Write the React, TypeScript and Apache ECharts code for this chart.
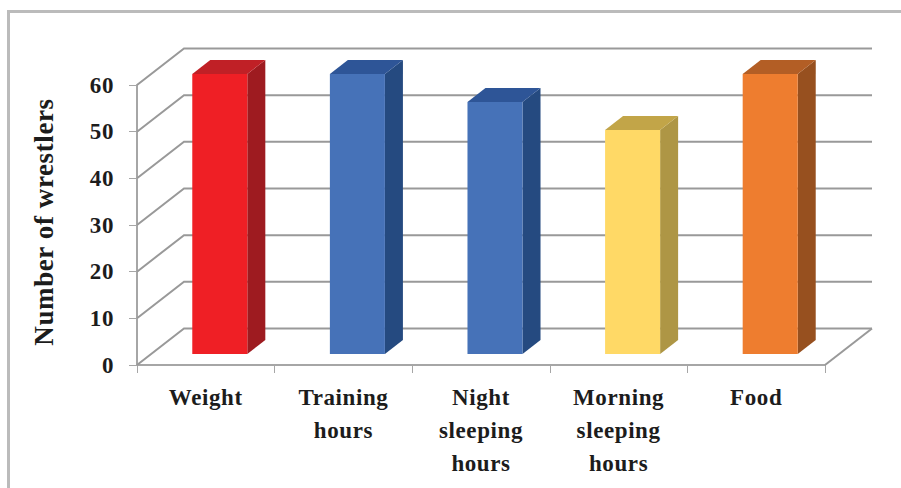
import React, { useEffect, useRef } from "react";
import * as echarts from "echarts";

const categories = [
  "Weight",
  "Training\nhours",
  "Night\nsleeping\nhours",
  "Morning\nsleeping\nhours",
  "Food",
];
const wrestlers = [60, 60, 54, 48, 60];
const valueTicks = [0, 10, 20, 30, 40, 50, 60];
const frontColors = ["#EF1F25", "#4672B8", "#4672B8", "#FFD966", "#EE7D2F"];
const sideColors = ["#9E1B20", "#254A80", "#254A80", "#AE9645", "#97501F"];
const topColors = ["#C02026", "#2E5597", "#2E5597", "#C2A548", "#B35E25"];

// Oblique projection: how far the back wall sits from the front plane.
const WALL_DX = 47;
const WALL_DY = 36.5;
// Bars stand inside the floor, with their own shallower depth.
const BAR_INSET_DX = 14;
const BAR_INSET_DY = 11;
const BAR_DX = 18;
const BAR_DY = 14;
const BAR_WIDTH_RATIO = 0.4;

const GRID_COLOR = "#999999";
const AXIS_COLOR = "#A6A6A6";
const TEXT_COLOR = "#1C1C1C";
const FONT = "'Liberation Serif', serif";

function renderWall(params: any, api: any) {
  const rect = params.coordSys;
  const y = api.coord([0, api.value(1)])[1];
  const left = rect.x;
  const right = rect.x + rect.width;
  const shape = {
    points: [
      [left, y],
      [left + WALL_DX, y - WALL_DY],
      [right + WALL_DX, y - WALL_DY],
    ],
  };
  const children: any[] = [
    { type: "polyline", shape, style: { stroke: GRID_COLOR, lineWidth: 2, fill: "none" } },
  ];
  if (api.value(1) === 0) {
    children.push({
      type: "line",
      shape: { x1: right, y1: y, x2: right + WALL_DX, y2: y - WALL_DY },
      style: { stroke: GRID_COLOR, lineWidth: 2 },
    });
  }
  return { type: "group", children };
}

function renderBar(params: any, api: any) {
  const idx = params.dataIndex;
  const [cx, top] = api.coord([api.value(0), api.value(1)]);
  const [, base] = api.coord([api.value(0), 0]);
  const width = api.size([1, 0])[0] * BAR_WIDTH_RATIO;
  const x0 = cx - width / 2 + BAR_INSET_DX;
  const x1 = x0 + width;
  const yTop = top - BAR_INSET_DY;
  const yBase = base - BAR_INSET_DY;
  return {
    type: "group",
    children: [
      {
        type: "polygon",
        shape: {
          points: [
            [x1, yTop],
            [x1 + BAR_DX, yTop - BAR_DY],
            [x1 + BAR_DX, yBase - BAR_DY],
            [x1, yBase],
          ],
        },
        style: { fill: sideColors[idx] },
      },
      {
        type: "polygon",
        shape: {
          points: [
            [x0, yTop],
            [x0 + BAR_DX, yTop - BAR_DY],
            [x1 + BAR_DX, yTop - BAR_DY],
            [x1, yTop],
          ],
        },
        style: { fill: topColors[idx] },
      },
      {
        type: "rect",
        shape: { x: x0, y: yTop, width, height: yBase - yTop },
        style: { fill: frontColors[idx] },
      },
    ],
  };
}

export default function App() {
  const ref = useRef<HTMLDivElement>(null);

  useEffect(() => {
    const chart = echarts.init(ref.current!, undefined, { renderer: "svg" });
    chart.setOption({
      animation: false,
      backgroundColor: "#FFFFFF",
      grid: { left: 137, right: 76, top: 85, bottom: 123 },
      graphic: [
        {
          type: "polyline",
          shape: { points: [[8.5, 488], [8.5, 11.5], [901, 11.5]] },
          style: { stroke: "#BBBBBB", lineWidth: 3, fill: "none" },
          silent: true,
        },
      ],
      xAxis: {
        type: "category",
        data: categories,
        axisLine: { show: true, lineStyle: { color: AXIS_COLOR, width: 2 } },
        axisTick: { show: true, length: 8, lineStyle: { color: AXIS_COLOR, width: 1 } },
        axisLabel: {
          interval: 0,
          margin: 16,
          color: TEXT_COLOR,
          fontFamily: FONT,
          fontWeight: "bold",
          fontSize: 23,
          lineHeight: 33,
        },
      },
      yAxis: {
        type: "value",
        min: 0,
        max: 60,
        interval: 10,
        name: "Number of wrestlers",
        nameLocation: "middle",
        nameRotate: 90,
        nameGap: 80,
        nameTextStyle: {
          color: TEXT_COLOR,
          fontFamily: FONT,
          fontWeight: "bold",
          fontSize: 27,
          padding: [0, 0, 0, 6],
        },
        splitLine: { show: false },
        axisLine: { show: true, lineStyle: { color: AXIS_COLOR, width: 2 } },
        axisTick: { show: true, length: 8, lineStyle: { color: AXIS_COLOR, width: 1 } },
        axisLabel: {
          margin: 23,
          padding: [0, 0, 2, 0],
          color: TEXT_COLOR,
          fontFamily: FONT,
          fontWeight: "bold",
          fontSize: 23,
        },
      },
      series: [
        {
          type: "custom",
          name: "Walls",
          renderItem: renderWall,
          data: valueTicks.map((v) => [0, v]),
          clip: false,
          silent: true,
          z: 1,
        },
        {
          type: "custom",
          name: "Number of wrestlers",
          renderItem: renderBar,
          data: wrestlers.map((v, i) => [i, v]),
          clip: false,
          z: 3,
        },
      ],
    });
    return () => chart.dispose();
  }, []);

  return (
    <div
      ref={ref}
      style={{ position: "absolute", left: 0, top: 0, width: 901, height: 488, letterSpacing: "0.6px" }}
    />
  );
}
